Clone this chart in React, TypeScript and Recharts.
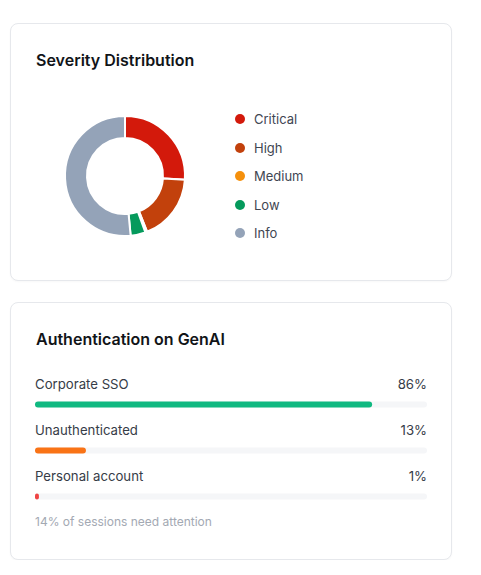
import { PieChart, Pie, Cell, Legend, BarChart, Bar, XAxis, YAxis } from 'recharts';

const severityNames = ['Critical', 'High', 'Medium', 'Low', 'Info'];
const severityValues = [26, 18, 0.5, 4, 51.5];
const severityColors = ['#d3190b', '#c2410c', '#f5900c', '#059a5c', '#94a3b8'];

const authNames = ['Corporate SSO', 'Unauthenticated', 'Personal account'];
const authValues = [86, 13, 1];
const authColors = ['#10b981', '#f97316', '#ef4444'];

const footerNote = '14% of sessions need attention';

const FONT = 'Inter, "Noto Sans", sans-serif';

const severityData = severityNames.map((name, i) => ({ name, value: severityValues[i] }));
const authData = authNames.map((name, i) => ({ name, value: authValues[i] }));

const cardStyle: React.CSSProperties = {
  position: 'relative',
  width: 440,
  height: 256,
  border: '1px solid #e6e8ec',
  borderRadius: 8,
  background: '#fff',
  boxShadow: '0 1px 2px rgba(16,24,40,0.03)',
  fontFamily: FONT,
};

const titleStyle: React.CSSProperties = {
  position: 'absolute',
  left: 25,
  top: 25,
  fontSize: 16,
  lineHeight: '22px',
  fontWeight: 600,
  color: '#111418',
};

function SeverityLegend() {
  return (
    <div>
      {severityNames.map((name, i) => (
        <div key={name} style={{ display: 'flex', alignItems: 'center', height: 28.5 }}>
          <span style={{ width: 10, height: 10, borderRadius: 5, background: severityColors[i], marginRight: 9 }} />
          <span style={{ fontSize: 13, color: '#3f4652' }}>{name}</span>
        </div>
      ))}
    </div>
  );
}

// full-width track, with the row label and percent drawn above it
function TrackWithLabels(props: any) {
  const { x, y, width, height, index } = props;
  return (
    <g>
      <rect x={x} y={y} width={width} height={height} rx={3} ry={3} fill="#f5f6f8" />
      <text x={x} y={y - 16} fontSize={13.2} fill="#363c47" fontFamily={FONT} dominantBaseline="middle">
        {authNames[index]}
      </text>
      <text x={x + width} y={y - 16} fontSize={13.2} fill="#363c47" fontFamily={FONT} textAnchor="end" dominantBaseline="middle">
        {authValues[index]}%
      </text>
    </g>
  );
}

export default function App() {
  return (
    <div style={{ marginLeft: 2, marginTop: 15 }}>
      <div style={cardStyle}>
        <div style={titleStyle}>Severity Distribution</div>
        <PieChart
          width={440}
          height={256}
          margin={{ top: 0, right: 0, bottom: 0, left: 0 }}
          style={{ position: 'absolute', left: 0, top: 0 }}
        >
          <Pie
            data={severityData}
            dataKey="value"
            nameKey="name"
            cx={114}
            cy={152}
            innerRadius={38}
            outerRadius={60}
            startAngle={90}
            endAngle={-270}
            stroke="#fff"
            strokeWidth={2}
            isAnimationActive={false}
          >
            {severityData.map((d, i) => (
              <Cell key={d.name} fill={severityColors[i]} />
            ))}
          </Pie>
          <Legend
            content={() => <SeverityLegend />}
            wrapperStyle={{ position: 'absolute', left: 224, top: 81, width: 120 }}
          />
        </PieChart>
      </div>

      <div style={{ ...cardStyle, marginTop: 21 }}>
        <div style={titleStyle}>Authentication on GenAI</div>
        <BarChart
          width={440}
          height={160}
          layout="vertical"
          data={authData}
          margin={{ top: 20.5, right: 24, bottom: 1.5, left: 24 }}
          barCategoryGap={0}
          style={{ position: 'absolute', left: 0, top: 58 }}
        >
          <XAxis type="number" domain={[0, 100]} hide />
          <YAxis type="category" dataKey="name" hide />
          <Bar
            dataKey="value"
            barSize={6}
            radius={3}
            background={<TrackWithLabels />}
            isAnimationActive={false}
          >
            {authData.map((d, i) => (
              <Cell key={d.name} fill={authColors[i]} />
            ))}
          </Bar>
        </BarChart>
        <div style={{ position: 'absolute', left: 24, top: 211, fontSize: 12, color: '#a3a9b3' }}>{footerNote}</div>
      </div>
    </div>
  );
}
